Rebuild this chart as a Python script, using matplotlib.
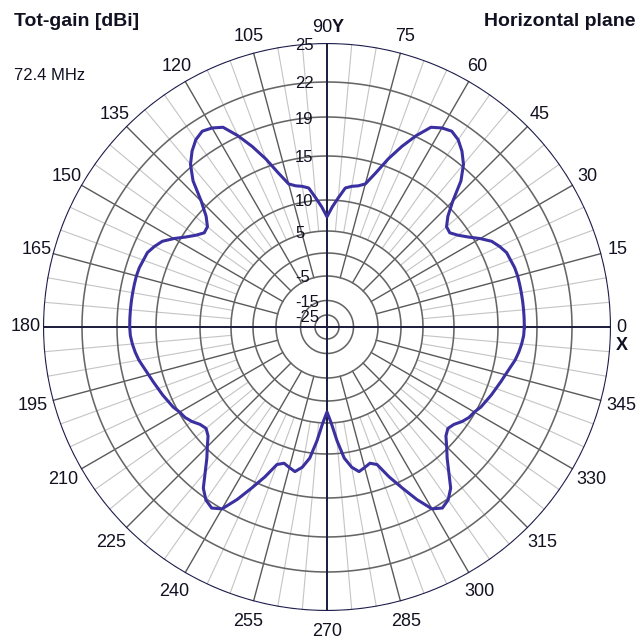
import numpy as np
import matplotlib
matplotlib.use("Agg")
import matplotlib.pyplot as plt

# =========================================================
# Pattern data, total gain in dBi
# one value every 2.5 degrees, starting at 0 (X axis), counter-clockwise
# =========================================================

angles_deg = [i * 2.5 for i in range(144)]

gain_dbi = [
    # 0 - 87.5
    17.7, 17.7, 17.7, 17.7, 17.7, 17.7, 17.7, 17.65, 17.5, 17.4, 17.0, 16.5,
    15.6, 14.6, 13.75, 13.15, 13.3, 14.2, 15.7, 17.8, 19.2, 20.0, 20.6, 20.9,
    20.7, 20.3, 19.1, 17.5, 15.8, 13.9, 12.4, 12.0, 11.8, 11.5, 10.3, 8.9,
    # 90 - 177.5
    7.3, 8.9, 10.3, 11.5, 11.8, 12.0, 12.4, 13.9, 15.8, 17.5, 19.1, 20.3,
    20.7, 20.9, 20.6, 20.0, 19.2, 17.8, 15.7, 14.2, 13.3, 13.15, 13.75, 14.6,
    15.6, 16.5, 17.0, 17.4, 17.5, 17.65, 17.7, 17.7, 17.7, 17.7, 17.7, 17.7,
    # 180 - 267.5
    17.7, 17.65, 17.5, 17.3, 17.05, 16.7, 16.4, 16.15, 15.9, 15.7, 15.45, 15.25,
    14.9, 14.7, 14.3, 13.75, 13.5, 13.9, 14.8, 15.7, 16.9, 18.3, 19.1, 19.4,
    19.0, 17.4, 15.65, 14.0, 12.2, 11.8, 12.1, 12.4, 11.75, 10.6, 7.9, 5.0,
    # 270 - 357.5
    2.5, 5.0, 7.9, 10.6, 11.75, 12.4, 12.1, 11.8, 12.2, 14.0, 15.65, 17.4,
    19.0, 19.4, 19.1, 18.3, 16.9, 15.7, 14.8, 13.9, 13.5, 13.75, 14.3, 14.7,
    14.9, 15.25, 15.45, 15.7, 15.9, 16.15, 16.4, 16.7, 17.05, 17.3, 17.5, 17.65,
]

ring_values = [25, 22, 19, 15, 10, 5, 0, -5, -15, -25]
ring_labels = ["25", "22", "19", "15", "10", "5", "", "-5", "-15", "-25"]

angle_ticks = list(range(0, 360, 15))

title_left = "Tot-gain [dBi]"
title_right = "Horizontal plane"
freq_text = "72.4 MHz"

# =========================================================
# Radial scale of the chart (dBi -> pixels from centre)
# =========================================================

scale_db = [-35, -25, -15, -5, 0, 5, 10, 15, 19, 22, 25]
scale_px = [0, 12, 26.5, 51, 74, 96, 127, 171, 210, 245, 284]

R = 284
cx, cy = 327, 327

TXT = "#111122"


def to_r(db):
    return np.interp(db, scale_db, scale_px)


plt.rcParams['font.family'] = ['Liberation Sans', 'DejaVu Sans']

fig = plt.figure(figsize=(6.38, 6.39), dpi=100)
fig.patch.set_facecolor("white")

# polar axes for grid and curve, pixel-exact placement
ax = fig.add_axes([(cx - R) / 638, (639 - cy - R) / 639, 2 * R / 638, 2 * R / 639],
                  projection="polar")
ax.set_axis_off()
ax.set_ylim(0, R)

# light spokes every 5 degrees
for a in range(0, 360, 5):
    if a % 15:
        th = np.deg2rad(a)
        ax.plot([th, th], [to_r(5), R], color="#c4c4c4", lw=0.8, zorder=1)

# dark spokes every 15 degrees
for a in angle_ticks:
    if a % 90:
        th = np.deg2rad(a)
        ax.plot([th, th], [to_r(-5), R], color="#595959", lw=1.0, zorder=2)

# rings
full = np.linspace(0, 2 * np.pi, 721)
for v in ring_values[1:]:
    ax.plot(full, np.full_like(full, to_r(v)), color="#666666", lw=1.15, zorder=2)

# X / Y axes
for a in (0, 90, 180, 270):
    th = np.deg2rad(a)
    ax.plot([th, th], [0, R], color="#1a1a3c", lw=1.4, zorder=3)

# outer circle
ax.plot(full, np.full_like(full, R), color="#1c1c4a", lw=1.6, zorder=3)

# pattern
th_curve = np.deg2rad(angles_deg + [angles_deg[0] + 360])
r_curve = to_r(np.array(gain_dbi + [gain_dbi[0]]))
ax.plot(th_curve, r_curve, color="#3b30a0", lw=2.2, zorder=5,
        solid_joinstyle="round")

# =========================================================
# Text layer in pixel coordinates
# =========================================================

tx = fig.add_axes([0, 0, 1, 1])
tx.set_xlim(0, 638)
tx.set_ylim(639, 0)
tx.set_axis_off()
tx.patch.set_alpha(0)

for v, lab in zip(ring_values, ring_labels):
    if lab:
        tx.text(cx - 32, cy - to_r(v) + 2, lab, ha="left", va="center",
                fontsize=12, color=TXT)

for a in angle_ticks:
    th = np.deg2rad(a)
    off = 17 if a <= 180 else 21
    x = cx + (R + off) * np.cos(th)
    y = cy - (R + off) * np.sin(th)
    if a == 90:
        tx.text(cx + 5, 27, "90", ha="right", va="center", fontsize=13, color=TXT)
        tx.text(cx + 5, 27, "Y", ha="left", va="center", fontsize=13,
                fontweight="bold", color=TXT)
    elif a == 0:
        tx.text(621, 328, "0", ha="center", va="center", fontsize=13, color=TXT)
        tx.text(622, 345, "X", ha="center", va="center", fontsize=13,
                fontweight="bold", color=TXT)
    else:
        tx.text(x, y, str(a), ha="center", va="center", fontsize=13, color=TXT)

tx.text(14, 22, title_left, ha="left", va="center", fontsize=14,
        fontweight="bold", color=TXT)
tx.text(636, 22, title_right, ha="right", va="center", fontsize=14,
        fontweight="bold", color=TXT)
tx.text(14, 75, freq_text, ha="left", va="center", fontsize=12, color=TXT)

fig.savefig("out.png", dpi=100)
